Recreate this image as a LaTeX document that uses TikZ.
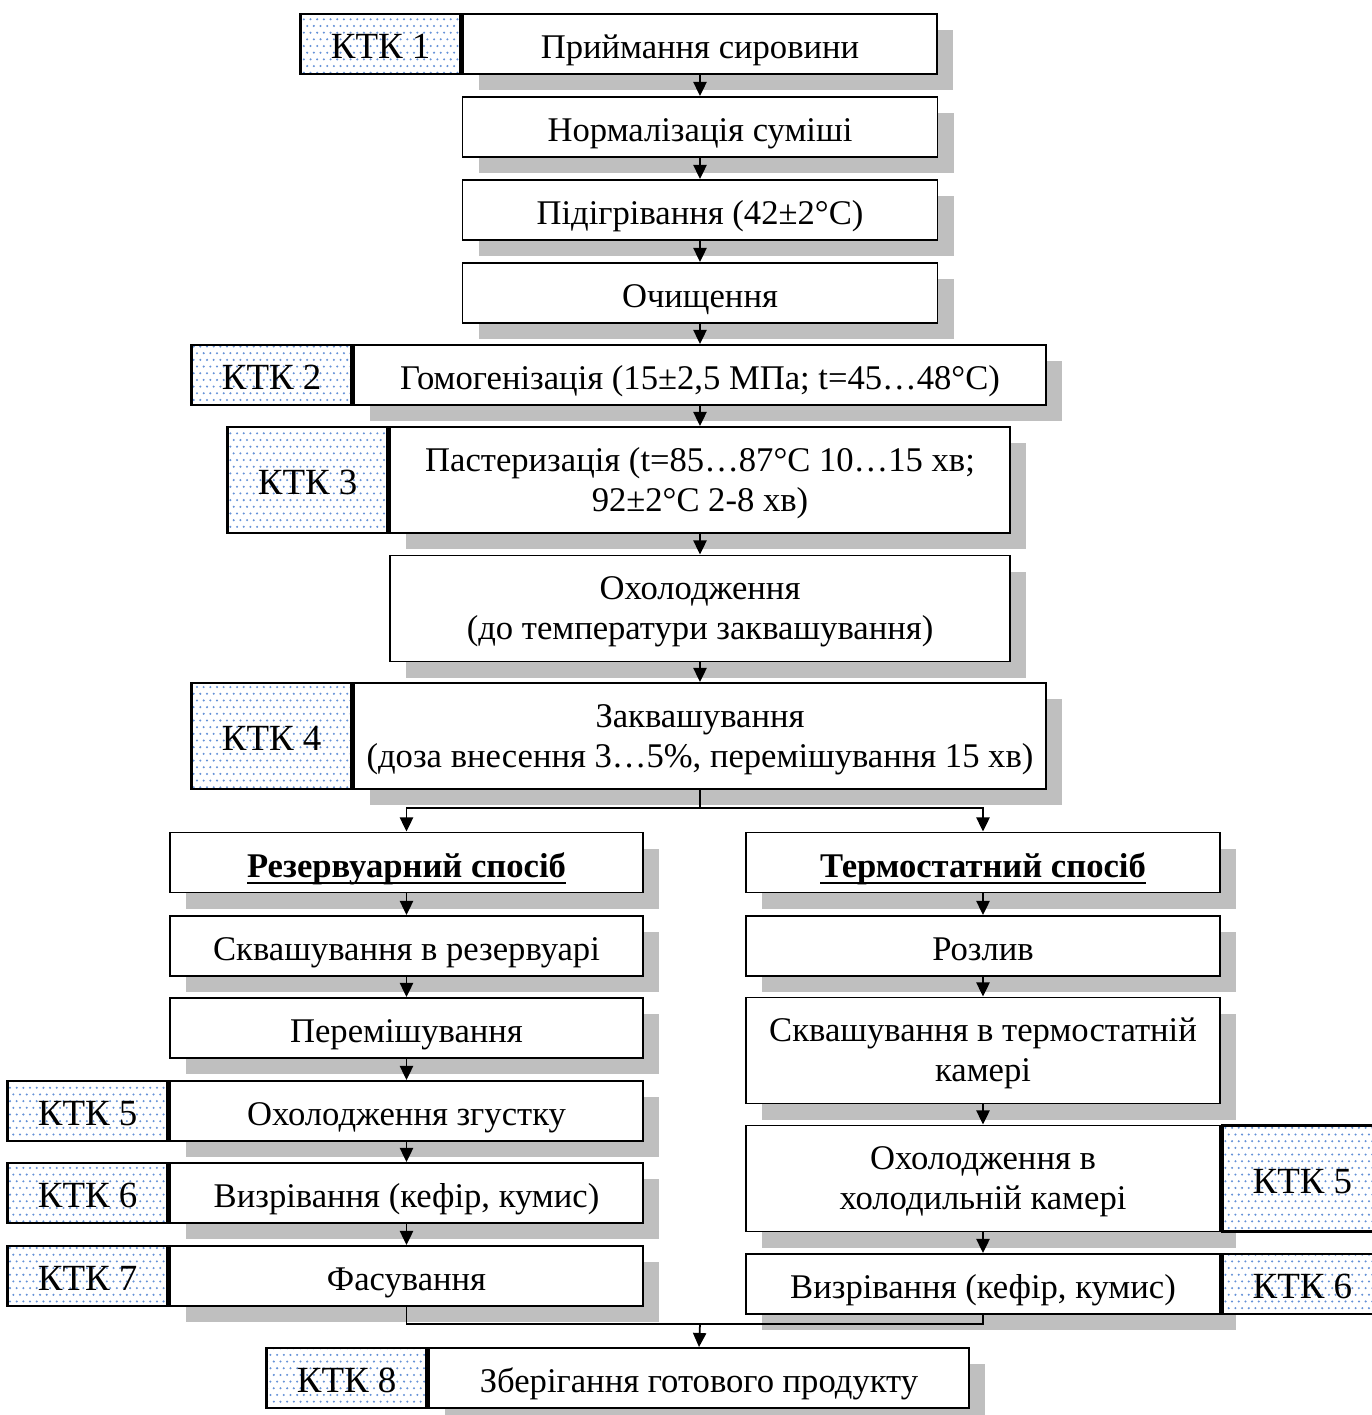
\documentclass[tikz,border=0pt]{standalone}
\usepackage{fontspec}
\setmainfont{Liberation Serif}
\usetikzlibrary{arrows.meta,positioning,patterns.meta,shadows}
\definecolor{ktkblue}{RGB}{100,145,215}

\tikzdeclarepattern{
  name=ktkdots,
  type=uncolored,
  bottom left={(-.7pt,-.7pt)},
  top right={(3.1pt,6.9pt)},
  tile size={(3.8pt,7.6pt)},
  code={\fill (0pt,0pt) circle (.65pt); \fill (1.9pt,3.8pt) circle (.65pt);}
}

\newcommand\ulined[1]{\setbox0\hbox{#1}\rlap{\rule[-3.5pt]{\wd0}{1.1pt}}\box0}

\tikzset{
  stage/.style={draw,line width=1.1pt,fill=white,align=center,inner sep=2pt,
    minimum height=1.2cm,
    drop shadow={shadow xshift=0.32cm,shadow yshift=-0.32cm,fill=black!25,opacity=1}},
  oneline/.style={text height=21pt,text depth=4pt},
  ktk/.style={draw,line width=1.6pt,preaction={fill=white},pattern={ktkdots},
    pattern color=ktkblue,minimum width=3.2cm,minimum height=1.2cm,inner sep=0pt,
    font=\fontsize{21}{24}\selectfont,oneline},
  flow/.style={line width=1pt,-{Triangle[length=8pt,width=7.5pt]}},
  link/.style={line width=1pt}
}

\begin{document}
\begin{tikzpicture}[x=0.2mm,y=-0.2mm,every node/.style={font=\fontsize{19.7}{22.7}\selectfont}]
  \useasboundingbox (0,0) rectangle (1371,1415);

  % common line
  \node[stage,oneline,minimum width=9.48cm] (s1) at (700,44) {Приймання сировини};
  \node[ktk,left=0pt of s1] (k1) {КТК 1};
  \node[stage,oneline,minimum width=9.5cm] (s2) at (700,127) {Нормалізація суміші};
  \node[stage,oneline,minimum width=9.5cm] (s3) at (700,210) {Підігрівання (42±2°C)};
  \node[stage,oneline,minimum width=9.5cm] (s4) at (700,293) {Очищення};
  \node[stage,oneline,minimum width=13.84cm] (gomo) at (700,375) {Гомогенізація (15±2,5 МПа; t=45…48°C)};
  \node[ktk,left=0pt of gomo] (k2) {КТК 2};
  \node[stage,minimum width=12.4cm,minimum height=2.12cm] (past) at (700,480)
    {\rule{0pt}{17pt}Пастеризація (t=85…87°C 10…15 хв;\\ 92±2°C 2-8 хв)};
  \node[ktk,minimum height=2.12cm,left=0pt of past] (k3) {КТК 3};
  \node[stage,minimum width=12.4cm,minimum height=2.12cm] (cool) at (700,608.5)
    {\rule{0pt}{17pt}Охолодження\\(до температури заквашування)};
  \node[stage,minimum width=13.84cm,minimum height=2.12cm] (zakv) at (700,736)
    {\rule{0pt}{17pt}Заквашування\\(доза внесення 3…5\%, перемішування 15 хв)};
  \node[ktk,minimum height=2.12cm,left=0pt of zakv] (k4) {КТК 4};

  % reservoir method
  \node[stage,oneline,minimum width=9.46cm] (rez) at (406.5,862.5) {\ulined{\textbf{Резервуарний спосіб}}};
  \node[stage,oneline,minimum width=9.46cm] (rskv) at (406.5,946) {Сквашування в резервуарі};
  \node[stage,oneline,minimum width=9.46cm] (rmix) at (406.5,1028) {Перемішування};
  \node[stage,oneline,minimum width=9.46cm] (rcool) at (406.5,1111) {Охолодження згустку};
  \node[ktk,left=0pt of rcool] (k5l) {КТК 5};
  \node[stage,oneline,minimum width=9.46cm] (rripe) at (406.5,1193) {Визрівання (кефір, кумис)};
  \node[ktk,left=0pt of rripe] (k6l) {КТК 6};
  \node[stage,oneline,minimum width=9.46cm] (rpack) at (406.5,1276) {Фасування};
  \node[ktk,left=0pt of rpack] (k7) {КТК 7};

  % thermostat method
  \node[stage,oneline,minimum width=9.48cm] (term) at (983,862.5) {\ulined{\textbf{Термостатний спосіб}}};
  \node[stage,oneline,minimum width=9.48cm] (tfill) at (983,946) {Розлив};
  \node[stage,minimum width=9.48cm,minimum height=2.12cm] (tskv) at (983,1050.5)
    {\rule{0pt}{17pt}Сквашування в термостатній\\камері};
  \node[stage,minimum width=9.48cm,minimum height=2.12cm] (tcool) at (983,1178.5)
    {\rule{0pt}{17pt}Охолодження в\\холодильній камері};
  \node[ktk,minimum height=2.12cm,right=0pt of tcool] (k5r) {КТК 5};
  \node[stage,oneline,minimum width=9.48cm] (tripe) at (983,1284) {Визрівання (кефір, кумис)};
  \node[ktk,right=0pt of tripe] (k6r) {КТК 6};

  % storage
  \node[stage,oneline,minimum width=10.8cm] (store) at (699,1378) {Зберігання готового продукту};
  \node[ktk,left=0pt of store] (k8) {КТК 8};

  % connectors
  \draw[flow] (s1) -- (s2);
  \draw[flow] (s2) -- (s3);
  \draw[flow] (s3) -- (s4);
  \draw[flow] (s4) -- (gomo);
  \draw[flow] (gomo) -- (past);
  \draw[flow] (past) -- (cool);
  \draw[flow] (cool) -- (zakv);

  \coordinate (split) at (700,808);
  \draw[link] (zakv.south) -- (split);
  \draw[flow] (split) -| (rez.north);
  \draw[flow] (split) -| (term.north);

  \draw[flow] (rez) -- (rskv);
  \draw[flow] (rskv) -- (rmix);
  \draw[flow] (rmix) -- (rcool);
  \draw[flow] (rcool) -- (rripe);
  \draw[flow] (rripe) -- (rpack);

  \draw[flow] (term) -- (tfill);
  \draw[flow] (tfill) -- (tskv);
  \draw[flow] (tskv) -- (tcool);
  \draw[flow] (tcool) -- (tripe);

  \coordinate (merge) at (700,1324);
  \draw[link] (rpack.south) |- (merge);
  \draw[link] (tripe.south) |- (merge);
  \draw[flow] (merge) -- (store.north);
\end{tikzpicture}
\end{document}
